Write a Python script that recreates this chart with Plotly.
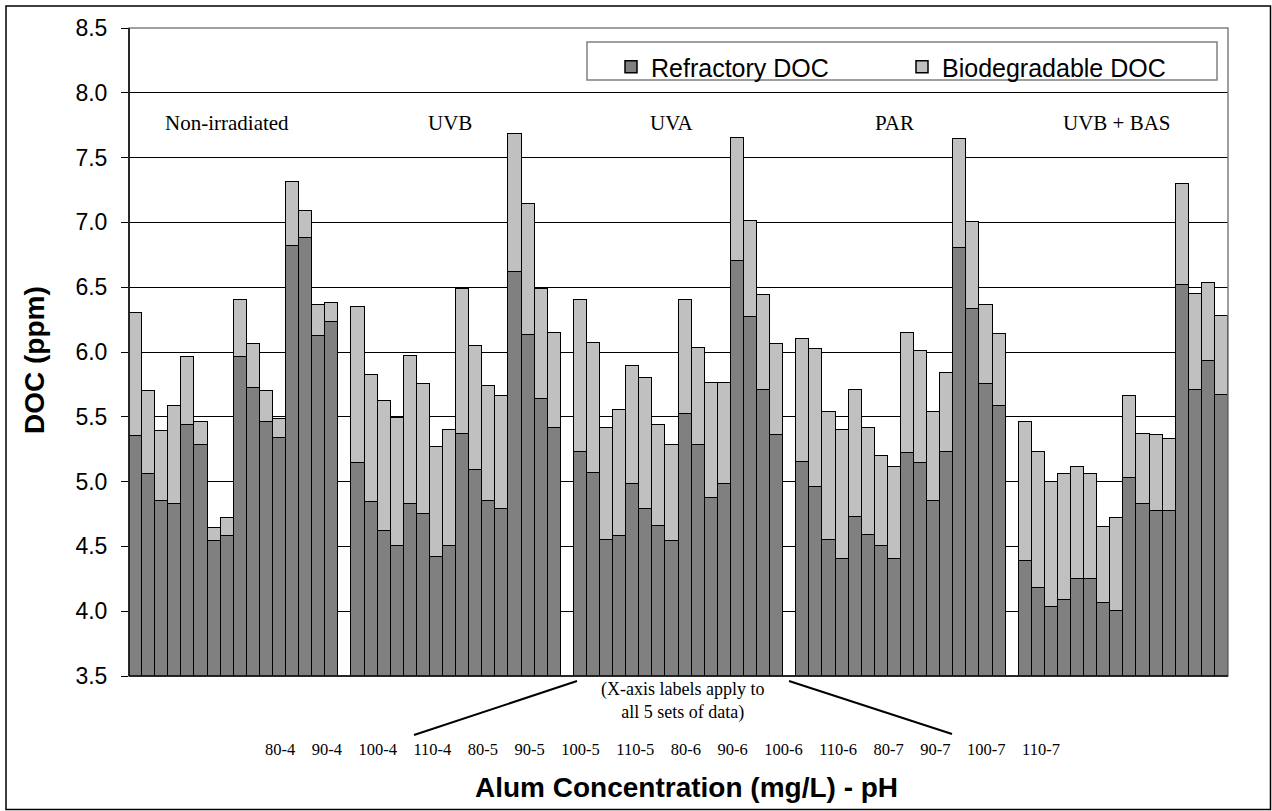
import plotly.graph_objects as go

# ---------------- data ----------------
groups = ["Non-irradiated", "UVB", "UVA", "PAR", "UVB + BAS"]
conditions = ["80-4", "90-4", "100-4", "110-4", "80-5", "90-5", "100-5", "110-5",
              "80-6", "90-6", "100-6", "110-6", "80-7", "90-7", "100-7", "110-7"]

refractory_nonirr = [5.35, 5.06, 4.85, 4.83, 5.44, 5.28, 4.54, 4.58, 5.96, 5.72, 5.46, 5.34, 6.82, 6.88, 6.12, 6.23]
total_nonirr      = [6.30, 5.70, 5.39, 5.58, 5.96, 5.46, 4.64, 4.72, 6.40, 6.06, 5.70, 5.48, 7.31, 7.09, 6.36, 6.38]

refractory_uvb = [5.14, 4.84, 4.62, 4.50, 4.83, 4.75, 4.42, 4.50, 5.37, 5.09, 4.85, 4.79, 6.62, 6.13, 5.64, 5.41]
total_uvb      = [6.35, 5.82, 5.62, 5.49, 5.97, 5.75, 5.27, 5.40, 6.49, 6.05, 5.74, 5.66, 7.68, 7.14, 6.49, 6.15]

refractory_uva = [5.23, 5.07, 4.55, 4.58, 4.98, 4.79, 4.66, 4.54, 5.52, 5.28, 4.87, 4.98, 6.70, 6.27, 5.71, 5.36]
total_uva      = [6.40, 6.07, 5.41, 5.55, 5.89, 5.80, 5.44, 5.28, 6.40, 6.03, 5.76, 5.76, 7.65, 7.01, 6.44, 6.06]

refractory_par = [5.15, 4.96, 4.55, 4.40, 4.73, 4.59, 4.50, 4.40, 5.22, 5.14, 4.85, 5.23, 6.80, 6.33, 5.75, 5.58]
total_par      = [6.10, 6.02, 5.54, 5.40, 5.71, 5.41, 5.20, 5.11, 6.15, 6.01, 5.54, 5.84, 7.64, 7.00, 6.36, 6.14]

refractory_uvbbas = [4.39, 4.18, 4.03, 4.09, 4.25, 4.25, 4.06, 4.00, 5.03, 4.83, 4.77, 4.77, 6.52, 5.71, 5.93, 5.67]
total_uvbbas      = [5.46, 5.23, 5.00, 5.06, 5.11, 5.06, 4.65, 4.72, 5.66, 5.37, 5.36, 5.33, 7.30, 6.45, 6.53, 6.28]

refractory_sets = [refractory_nonirr, refractory_uvb, refractory_uva, refractory_par, refractory_uvbbas]
total_sets = [total_nonirr, total_uvb, total_uva, total_par, total_uvbbas]

y_ticks = [3.5, 4.0, 4.5, 5.0, 5.5, 6.0, 6.5, 7.0, 7.5, 8.0, 8.5]

# ---------------- layout geometry ----------------
FIG_W, FIG_H = 1272, 811
L, R, T, B = 129, 1228, 28, 676
PW, PH = R - L, B - T
SLOT = len(conditions) + 1  # one empty category between sets


def px_x(px):
    return (px - L) / PW


def px_y(py):
    return (B - py) / PH


xs, ref_vals, bio_vals = [], [], []
for g in range(len(groups)):
    for i in range(len(conditions)):
        xs.append(g * SLOT + i)
        ref_vals.append(refractory_sets[g][i])
        bio_vals.append(round(total_sets[g][i] - refractory_sets[g][i], 3))

fig = go.Figure()
fig.add_trace(go.Bar(
    x=xs, y=ref_vals, name="Refractory DOC", width=1.0,
    marker=dict(color="#808080", line=dict(color="black", width=1.5)),
))
fig.add_trace(go.Bar(
    x=xs, y=bio_vals, name="Biodegradable DOC", width=1.0,
    marker=dict(color="#C0C0C0", line=dict(color="black", width=1.5)),
))

serif = "Liberation Serif, Times New Roman, serif"
sans = "Liberation Sans, Arial, sans-serif"

annotations = []
for g, name in enumerate(groups):
    annotations.append(dict(
        x=g * SLOT + 7.0, y=7.77, xref="x", yref="y", text=name, showarrow=False,
        font=dict(family=serif, size=21, color="black"), xanchor="center", yanchor="middle",
    ))

annotations.append(dict(
    x=px_x(682), y=px_y(701), xref="paper", yref="paper",
    text="(X-axis labels apply to<br>all 5 sets of data)", showarrow=False,
    font=dict(family=serif, size=18, color="black"), align="center",
    xanchor="center", yanchor="middle",
))
annotations.append(dict(
    x=px_x(263), y=px_y(749), xref="paper", yref="paper",
    text=("\u00a0" * 4).join(conditions), showarrow=False,
    font=dict(family=serif, size=16.5, color="black"), xanchor="left", yanchor="middle",
))
annotations.append(dict(
    x=px_x(686), y=px_y(787), xref="paper", yref="paper",
    text="<b>Alum Concentration (mg/L) - pH</b>", showarrow=False,
    font=dict(family=sans, size=28, color="black"), xanchor="center", yanchor="middle",
))
annotations.append(dict(
    x=px_x(34), y=px_y(360), xref="paper", yref="paper",
    text="<b>DOC (ppm)</b>", showarrow=False, textangle=-90,
    font=dict(family=sans, size=28, color="black"), xanchor="center", yanchor="middle",
))

shapes = [
    # plot area border (gray)
    dict(type="rect", xref="paper", yref="paper", x0=0, x1=1, y0=0, y1=1,
         line=dict(color="#808080", width=1.5), layer="above"),
    # left axis line black
    dict(type="line", xref="paper", yref="paper", x0=0, x1=0, y0=0, y1=1,
         line=dict(color="black", width=1.5), layer="above"),
    # bottom axis line
    dict(type="line", xref="paper", yref="paper", x0=0, x1=1, y0=0, y1=0,
         line=dict(color="black", width=1.5), layer="above"),
    # legend box
    dict(type="rect", xref="paper", yref="paper", x0=px_x(587), x1=px_x(1217), y0=px_y(80), y1=px_y(42),
         line=dict(color="#808080", width=1.5), fillcolor="white", layer="above"),
    # pointer lines
    dict(type="line", xref="paper", yref="paper", x0=px_x(577), y0=px_y(681), x1=px_x(414), y1=px_y(735),
         line=dict(color="black", width=2)),
    dict(type="line", xref="paper", yref="paper", x0=px_x(789), y0=px_y(681), x1=px_x(952), y1=px_y(734),
         line=dict(color="black", width=2)),
    # outer frame
    dict(type="rect", xref="paper", yref="paper", x0=px_x(6), x1=px_x(1270.5), y0=px_y(809.5), y1=px_y(6),
         line=dict(color="black", width=1.5)),
]

fig.update_layout(
    width=FIG_W, height=FIG_H,
    margin=dict(l=L, r=FIG_W - R, t=T, b=FIG_H - B, pad=0),
    paper_bgcolor="white", plot_bgcolor="white",
    barmode="stack", bargap=0,
    showlegend=True,
    legend=dict(
        orientation="h", x=px_x(611), y=px_y(44), xanchor="left", yanchor="top",
        borderwidth=0, bgcolor="rgba(0,0,0,0)",
        font=dict(family=sans, size=25, color="black"),
        entrywidth=246, entrywidthmode="pixels", traceorder="normal",
    ),
    xaxis=dict(range=[-0.5, len(groups) * SLOT - 1.5], showticklabels=False, ticks="",
               showgrid=False, zeroline=False, showline=False, fixedrange=True),
    yaxis=dict(range=[3.5, 8.5], tickvals=y_ticks, tickformat=".1f",
               ticks="outside", ticklen=7, tickcolor="black", tickwidth=1,
               showgrid=True, gridcolor="black", gridwidth=1, zeroline=False, showline=False,
               tickfont=dict(family=sans, size=23, color="black"), ticklabelstandoff=9),
    annotations=annotations,
    shapes=shapes,
)

fig.write_html("out.html")
